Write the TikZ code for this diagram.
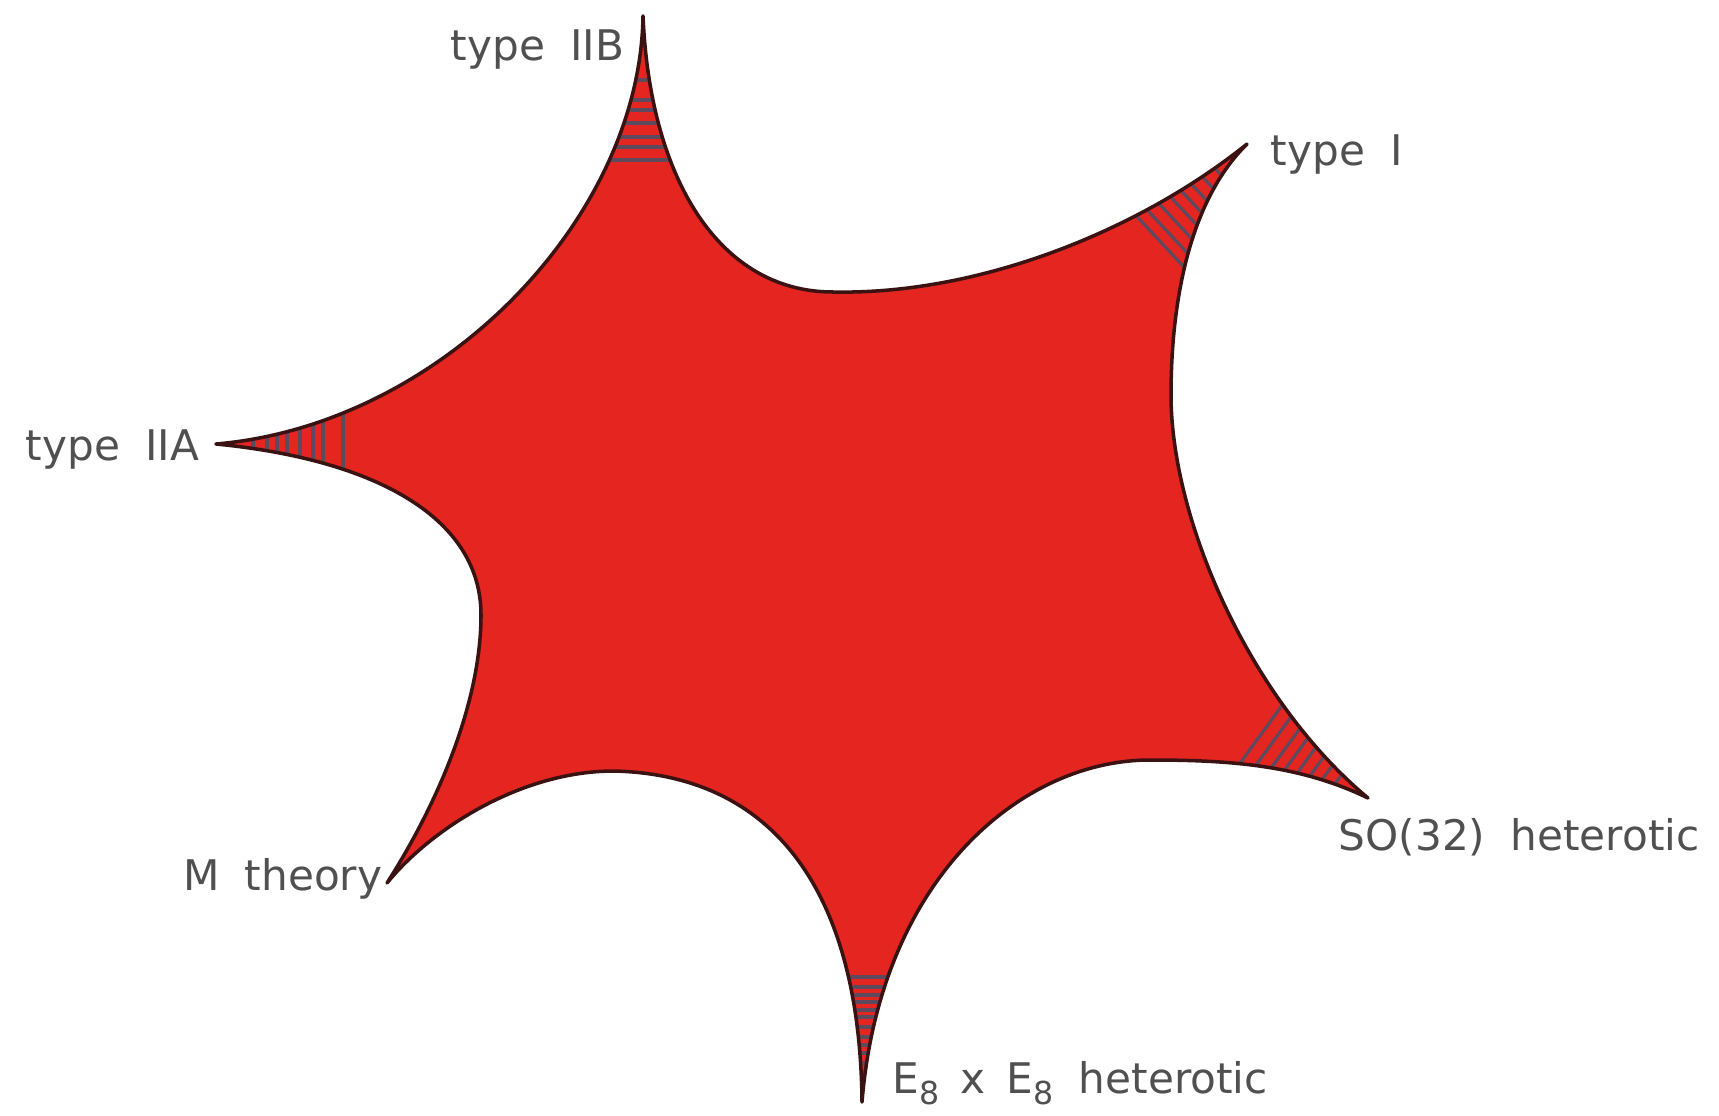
\documentclass[tikz,border=0pt]{standalone}
\usepackage{fontspec}
\setmainfont{DejaVu Sans}
\usetikzlibrary{calc}

\definecolor{starred}{HTML}{E42520}
\definecolor{edgedark}{HTML}{3A1212}
\definecolor{hatchgray}{HTML}{5E4A5E}
\definecolor{labelgray}{HTML}{505050}

\tikzset{
  label text/.style={text=labelgray, font=\fontsize{12}{14}\selectfont, inner sep=0pt},
  hatch line/.style={hatchgray, line width=0.9pt},
  star edge/.style={edgedark, line width=1pt, line join=round},
}

\newcommand{\starshape}{(iia) .. controls (440,425) and (640,220) .. (iib)
  .. controls (650,180) and (720,292) .. (833,292)
  .. controls (980,295) and (1140,230) .. (ti)
  .. controls (1190,200) and (1171,300) .. (1171,395)
  .. controls (1171,520) and (1250,700) .. (so)
  .. controls (1300,765) and (1230,760) .. (1150,760)
  .. controls (1020,760) and (880,880) .. (ee)
  .. controls (860,900) and (780,775) .. (614,771)
  .. controls (520,771) and (430,830) .. (mth)
  .. controls (440,800) and (481,700) .. (481,615)
  .. controls (481,520) and (380,460) .. (iia) -- cycle}

\begin{document}
\begin{tikzpicture}[x=0.01cm, y=-0.01cm]

\useasboundingbox (0,0) rectangle (1719,1115);

% tips of the star
\coordinate (iib) at (643,16);
\coordinate (ti) at (1247,144);
\coordinate (so) at (1368,798);
\coordinate (ee) at (862,1102);
\coordinate (mth) at (387,883);
\coordinate (iia) at (216,444);

\fill[starred] \starshape;

% hatching near the tips
\begin{scope}
\clip \starshape;
\foreach \t/\a/\dl in {iib/90/{64,84,94,107,121,131,144},
                       ti/137/{40,55,68,80,92,105,118,130},
                       iia/0/{37,51,61,71,84,97,107,127},
                       so/216/{35,48,60,72,84,96,110,124},
                       ee/270/{39,49,57,65,75,85,92,100,107,115,125}}
  \foreach \d in \dl
    \draw[hatch line] ($(\t)+(\a:\d)+(\a+90:90)$) -- ($(\t)+(\a:\d)+(\a-90:90)$);
\end{scope}

\draw[star edge] \starshape;

\node[label text, anchor=base east] (lIIB) at (625,60) {type\hspace{0.6em}IIB};
\node[label text, anchor=base west] (lI) at (1270,165) {type\hspace{0.6em}I};
\node[label text, anchor=base east] (lIIA) at (200,460) {type\hspace{0.6em}IIA};
\node[label text, anchor=base east] (lM) at (383,890) {M\hspace{0.6em}theory};
\node[label text, anchor=base west] (lSO) at (1338,850) {SO(32)\hspace{0.6em}heterotic};
\node[label text, anchor=base west] (lE) at (892,1093) {E\raisebox{-0.5ex}{\small 8}\hspace{0.5em}x\hspace{0.5em}E\raisebox{-0.5ex}{\small 8}\hspace{0.6em}heterotic};

\end{tikzpicture}
\end{document}
